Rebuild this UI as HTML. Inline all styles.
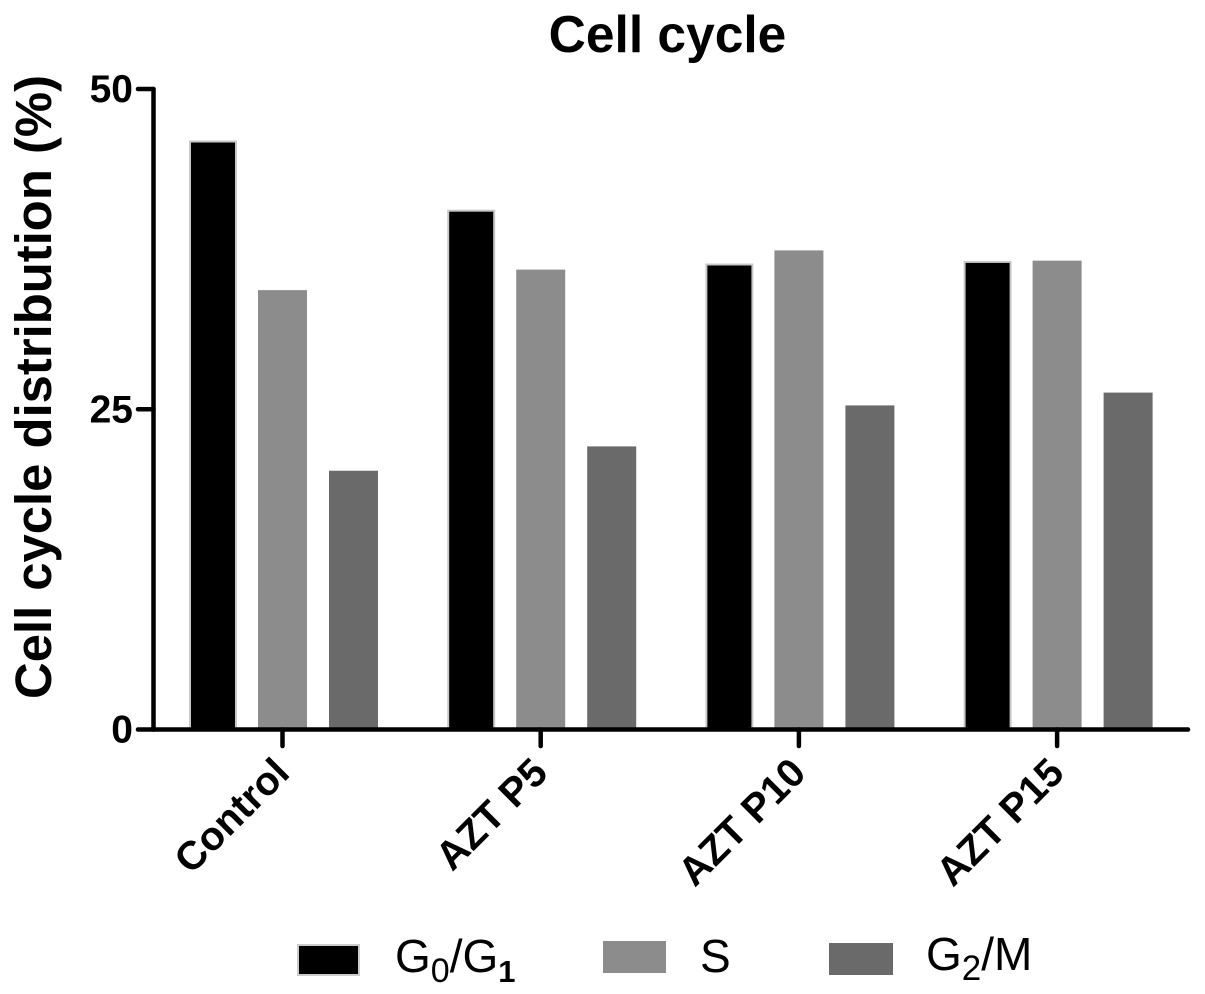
<!DOCTYPE html>
<html>
<head>
<meta charset="utf-8">
<title>Cell cycle</title>
<style>
html,body{margin:0;padding:0;background:#fff;}
svg{display:block;}
text{font-family:"Liberation Sans",Arial,sans-serif;fill:#000;}
</style>
</head>
<body>
<svg id="chart" width="1205" height="994" viewBox="0 0 1205 994" xmlns="http://www.w3.org/2000/svg">
<rect x="0" y="0" width="1205" height="994" fill="#fff"/>
<text x="667.5" y="52" text-anchor="middle" font-size="51.5" font-weight="bold">Cell cycle</text>
<text transform="translate(51,387) rotate(-90)" text-anchor="middle" font-size="50.8" font-weight="bold" word-spacing="1">Cell cycle distribution (%)</text>
<g id="bars"></g>
<g id="axes"></g>
<g id="legend">
<rect x="298" y="945" width="61" height="30" fill="#000" stroke="#ccc" stroke-width="2"/>
<text x="395" y="972" font-size="46">G<tspan font-size="34" dy="10">0</tspan><tspan dy="-10">/G</tspan><tspan font-size="31" dy="10" font-weight="bold">1</tspan></text>
<rect x="603" y="941" width="63" height="32" fill="#8c8c8c"/>
<text x="700" y="972" font-size="46">S</text>
<rect x="829" y="943" width="64" height="32" fill="#6a6a6a"/>
<text x="926" y="970" font-size="46">G<tspan font-size="35" dy="10">2</tspan><tspan dy="-10">/M</tspan></text>
</g>
</svg>
<script>
const categories = ["Control", "AZT P5", "AZT P10", "AZT P15"];
const seriesNames = ["G0/G1", "S", "G2/M"];
const g0g1Values = [45.9, 40.5, 36.3, 36.5];
const sValues = [34.3, 35.9, 37.4, 36.6];
const g2mValues = [20.2, 22.1, 25.3, 26.3];
const yTickValues = [0, 25, 50];

const NS = "http://www.w3.org/2000/svg";
const Y0 = 729.5, Y50 = 89, YMAX = 50;
function yScale(v){ return Y0 - (v / YMAX) * (Y0 - Y50); }
function xScale(i){ return 282.5 + 258.2 * i; }

const seriesStyles = [
  {values: g0g1Values, offset: -69.5, width: 46, fill: "#000", stroke: "#c8c8c8"},
  {values: sValues, offset: 0, width: 49, fill: "#8c8c8c", stroke: "none"},
  {values: g2mValues, offset: 71, width: 49, fill: "#6a6a6a", stroke: "none"}
];

const barsG = document.getElementById("bars");
seriesStyles.forEach(function(s, si){
  s.values.forEach(function(v, i){
    const r = document.createElementNS(NS, "rect");
    const cx = xScale(i) + s.offset;
    r.setAttribute("x", cx - s.width / 2);
    r.setAttribute("y", yScale(v));
    r.setAttribute("width", s.width);
    r.setAttribute("height", Y0 - yScale(v));
    r.setAttribute("fill", s.fill);
    if (s.stroke !== "none") {
      r.setAttribute("stroke", s.stroke);
      r.setAttribute("stroke-width", "2");
    }
    
    
    r.setAttribute("data-series", seriesNames[si]);
    r.setAttribute("data-category", categories[i]);
    barsG.appendChild(r);
  });
});

const axesG = document.getElementById("axes");
function line(x1, y1, x2, y2, name){
  const l = document.createElementNS(NS, "line");
  l.setAttribute("x1", x1);
  l.setAttribute("y1", y1);
  l.setAttribute("x2", x2);
  l.setAttribute("y2", y2);
  l.setAttribute("stroke", "#000");
  l.setAttribute("stroke-width", "4.5");
  l.setAttribute("stroke-linecap", "round");
  
  
  axesG.appendChild(l);
}
line(153.5, yScale(YMAX), 153.5, Y0, "y-axis-line");
line(153.5, Y0, 1188, Y0, "x-axis-line");

yTickValues.forEach(function(v){
  line(138, yScale(v), 153.5, yScale(v), "y-tick");
  const t = document.createElementNS(NS, "text");
  t.setAttribute("x", 133);
  t.setAttribute("y", yScale(v) + 13);
  t.setAttribute("text-anchor", "end");
  t.setAttribute("font-size", "39");
  t.setAttribute("font-weight", "bold");
  
  
  t.textContent = v;
  axesG.appendChild(t);
});

categories.forEach(function(c, i){
  const x = xScale(i);
  line(x, Y0, x, 746, "x-tick");
  const t = document.createElementNS(NS, "text");
  t.setAttribute("transform", "translate(" + (x + 9) + ",775) rotate(-45)");
  t.setAttribute("text-anchor", "end");
  t.setAttribute("font-size", "40");
  t.setAttribute("font-weight", "bold");
  
  
  t.textContent = c;
  axesG.appendChild(t);
});
</script>
</body>
</html>
